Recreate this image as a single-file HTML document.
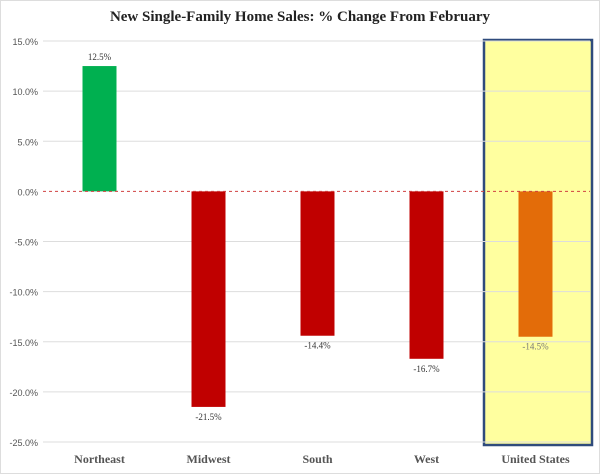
<!DOCTYPE html>
<html><head><meta charset="utf-8"><style>
body{margin:0;background:#fff;}
svg{display:block;font-family:"Liberation Serif",serif;}
</style></head><body>
<svg width="600" height="474">
<rect x="0.5" y="0.5" width="599" height="473" fill="#fff" stroke="#ddd"/>
<text x="300" y="21" text-anchor="middle" font-size="15" font-weight="bold" fill="#222">New Single-Family Home Sales: % Change From February</text>
<g id="plot"></g>
</svg>
<script>
const categories=["Northeast","Midwest","South","West","United States"];
const values=[12.5,-21.5,-14.4,-16.7,-14.5];
const ticks=[15,10,5,0,-5,-10,-15,-20,-25];
const tickLabels=["15.0%","10.0%","5.0%","0.0%","-5.0%","-10.0%","-15.0%","-20.0%","-25.0%"];
const valueLabels=["12.5%","-21.5%","-14.4%","-16.7%","-14.5%"];
const colors=["#00b050","#c00000","#c00000","#c00000","#e36c09"];
const NS="http://www.w3.org/2000/svg";
const g=document.getElementById('plot');
const x0=45,x1=590,y0=41,y1=442,vmax=15,vmin=-25;
const yS=v=>y0+(vmax-v)/(vmax-vmin)*(y1-y0);
const band=(x1-x0)/categories.length;
const xC=i=>x0+band*(i+0.5);
function mk(t,a){const e=document.createElementNS(NS,t);for(const k in a)e.setAttribute(k,a[k]);g.appendChild(e);return e;}
// highlight
const hl=mk('rect',{x:xC(4)-band/2+3,y:y0-1,width:band-1,height:y1-y0+4,fill:'#ffff9f',stroke:'#2f4b7c','stroke-width':2.5});


ticks.forEach((t,i)=>{
  const y=yS(t);
  if(t!==0){const l=mk('line',{x1:x0-2,x2:x1,y1:y,y2:y,stroke:'#ddd','stroke-width':1});
  
  }
  const tx=mk('text',{x:38,y:y+4,'text-anchor':'end','font-size':9,fill:'#555','font-family':'Liberation Sans, sans-serif'});
  tx.textContent=tickLabels[i];
  
  
});
categories.forEach((c,i)=>{
  const v=values[i],yz=yS(0),yv=yS(v);
  const b=mk('rect',{x:xC(i)-17,y:Math.min(yz,yv),width:34,height:Math.abs(yv-yz),fill:colors[i]});
  
  
  const lt=mk('text',{x:xC(i),y:v>=0?yv-6:yv+13,'text-anchor':'middle','font-size':9,fill:i===4?'#777':'#333'});
  lt.textContent=valueLabels[i];
  
  
  const ct=mk('text',{x:xC(i),y:463,'text-anchor':'middle','font-size':12,'font-weight':'bold',fill:'#555'});
  ct.textContent=c;
  
  
});
const z=mk('line',{x1:x0-2,x2:x1,y1:yS(0),y2:yS(0),stroke:'#d04040','stroke-width':1,'stroke-dasharray':'3,3'});


</script>
</body></html>
